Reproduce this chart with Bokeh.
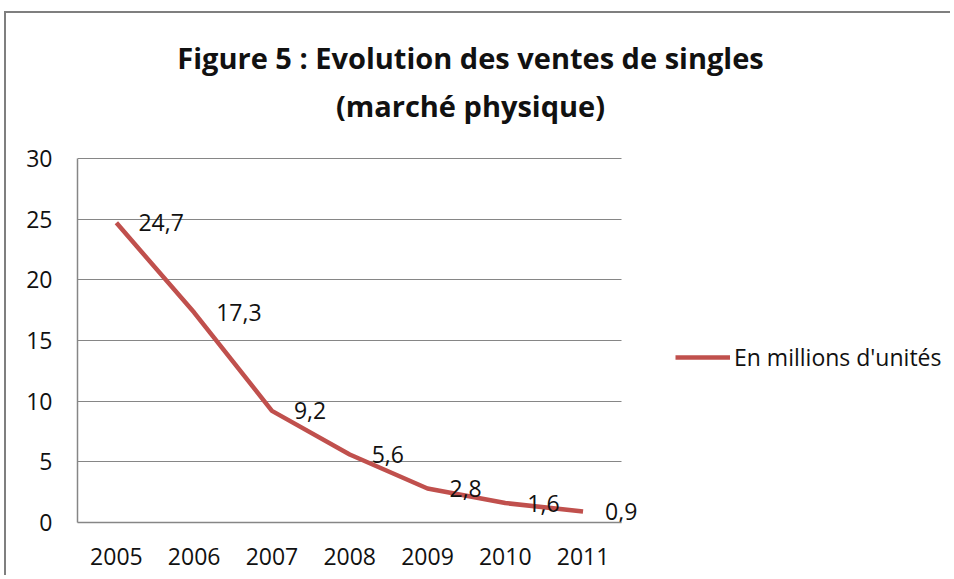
from bokeh.plotting import figure
from bokeh.models import (Range1d, FixedTicker, Legend, LegendItem, Label,
                          ColumnDataSource)
from bokeh.core.properties import value
from bokeh.embed import file_html
from bokeh.resources import INLINE

years = ["2005", "2006", "2007", "2008", "2009", "2010", "2011"]
ventes = [24.7, 17.3, 9.2, 5.6, 2.8, 1.6, 0.9]
labels = ["24,7", "17,3", "9,2", "5,6", "2,8", "1,6", "0,9"]
title_lines = ["Figure 5 : Evolution des ventes de singles", "(marché physique)"]
series_name = "En millions d'unités"
y_ticks = [0, 5, 10, 15, 20, 25, 30]

FONT = "Open Sans"
GRAY = "#868686"
RED = "#C0504D"
TXT = "#111111"

xpos = list(range(len(years)))
src = ColumnDataSource(dict(x=xpos, y=ventes, lab=labels))

# frame spans the whole canvas right/top so that texts outside the axes are not clipped
p = figure(width=946, height=564, output_backend="svg", toolbar_location=None,
           title=None, x_range=Range1d(-0.5, 10.75), y_range=Range1d(0, 41.95),
           min_border_left=71, min_border_right=0, min_border_top=0,
           min_border_bottom=55)
p.styles = {"border-left": "2px solid #7f7f7f", "border-top": "2px solid #7f7f7f",
            "margin-top": "11px", "margin-left": "4px"}
p.outline_line_color = None
p.background_fill_color = "white"
p.border_fill_color = "white"

p.xgrid.grid_line_color = None
p.ygrid.grid_line_color = GRAY
p.ygrid.grid_line_width = 1
p.ygrid.cross_bounds = (-0.5, 6.5)
p.yaxis.ticker = FixedTicker(ticks=y_ticks)
p.yaxis.bounds = (0, 30)
p.xaxis.ticker = FixedTicker(ticks=xpos)
p.xaxis.major_label_overrides = {i: y for i, y in zip(xpos, years)}
p.xaxis.bounds = (-0.5, 6.5)

for ax in (p.xaxis[0], p.yaxis[0]):
    ax.axis_line_color = GRAY
    ax.axis_line_width = 1.5
    ax.major_tick_line_color = None
    ax.minor_tick_line_color = None
    ax.major_label_text_font = FONT
    ax.major_label_text_font_size = "23px"
    ax.major_label_text_color = TXT
p.yaxis.major_label_standoff = 19
p.xaxis.major_label_standoff = 19

r = p.line("x", "y", source=src, line_color=RED, line_width=4.5)

p.text("x", "y", text="lab", source=src, x_offset=22, text_align="left",
       text_baseline="middle", text_font=value(FONT), text_font_size="23px",
       text_color=TXT)

for i, t in enumerate(title_lines):
    p.add_layout(Label(x=393, y=465 - 48 * i, x_units="screen", y_units="screen",
                       text=t, text_align="center", text_baseline="middle",
                       text_font=FONT, text_font_size="29px",
                       text_font_style="bold", text_color=TXT))

legend = Legend(items=[LegendItem(label=series_name, renderers=[r])],
                location=(598, 149), padding=0, margin=0, glyph_width=55,
                label_standoff=4, label_text_font=FONT, label_text_font_size="23px",
                label_text_color=TXT, border_line_color=None,
                background_fill_alpha=0)
p.add_layout(legend)

open("out.html", "w").write(file_html(p, INLINE))
